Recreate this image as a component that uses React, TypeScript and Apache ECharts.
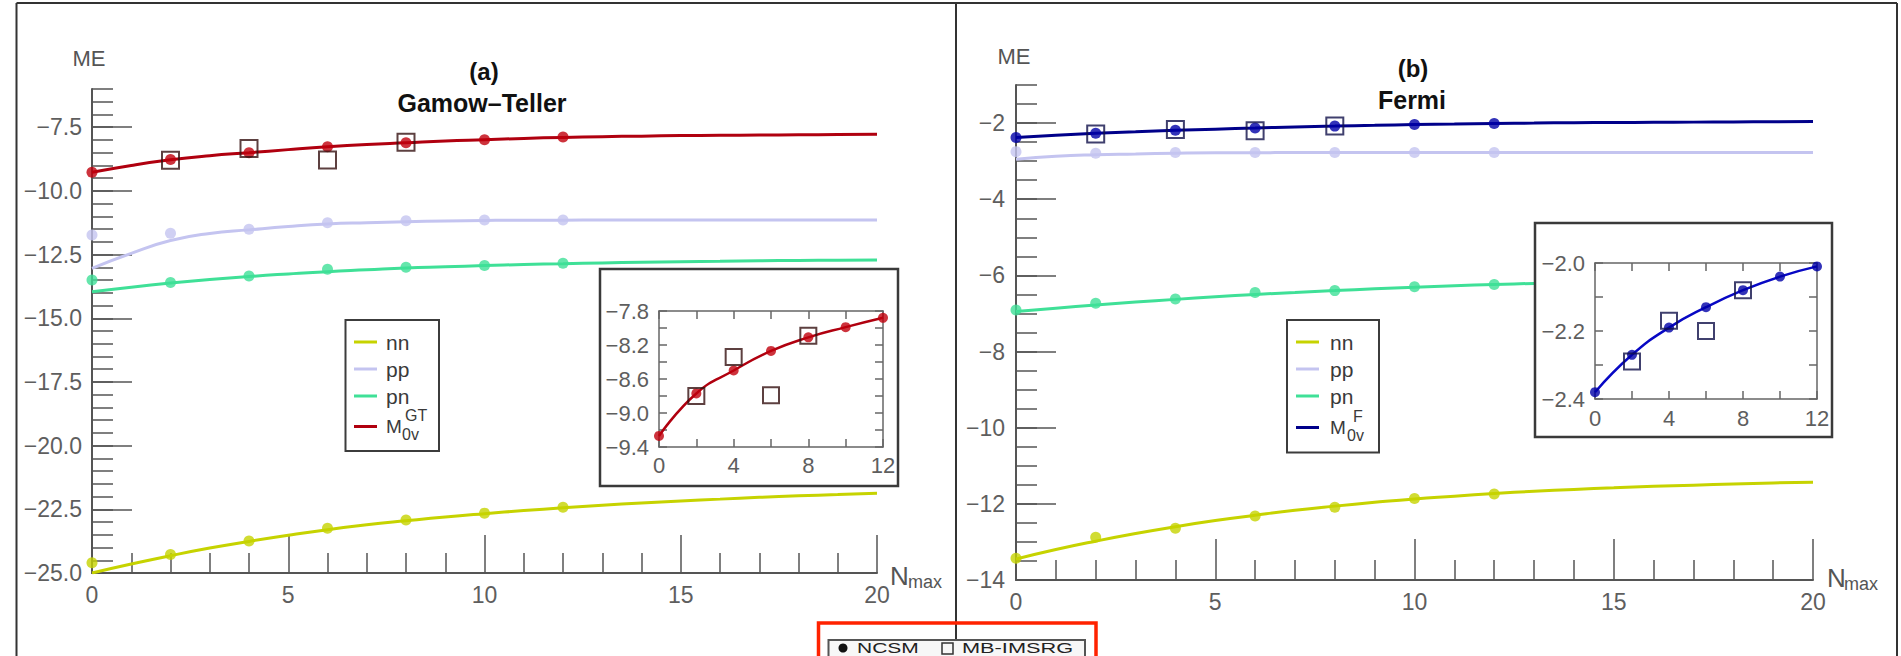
import React, { useEffect, useRef } from 'react';
import * as echarts from 'echarts';

const FONT = "'Liberation Sans', Arial, Helvetica, sans-serif";

// N_max grid of the calculations
const NMAX_NCSM = [0, 2, 4, 6, 8, 10, 12];
const NMAX_IMSRG = [2, 4, 6, 8];
const NMAX_FIT = [0, 1, 2, 3, 4, 5, 6, 7, 8, 9, 10, 11, 12, 13, 14, 15, 16, 17, 18, 19, 20];

// Tick labels
const X_MAIN_LABELS = [0, 5, 10, 15, 20];
const X_INSET_LABELS = [0, 4, 8, 12];
const GT_Y_LABELS = [-25, -22.5, -20, -17.5, -15, -12.5, -10, -7.5];
const GT_INSET_Y_LABELS = [-9.4, -9.0, -8.6, -8.2, -7.8];
const F_Y_LABELS = [-14, -12, -10, -8, -6, -4, -2];
const F_INSET_Y_LABELS = [-2.4, -2.2, -2.0];

// (a) Gamow–Teller: NCSM points
const GT_NN = [-24.6, -24.27, -23.74, -23.24, -22.92, -22.65, -22.42];
const GT_PP = [-11.73, -11.66, -11.51, -11.25, -11.17, -11.14, -11.14];
const GT_PN = [-13.5, -13.6, -13.34, -13.08, -13.0, -12.93, -12.84];
const GT_M0V = [-9.27, -8.77, -8.5, -8.27, -8.11, -7.99, -7.88];
// (a) MB-IMSRG points
const GT_M0V_IMSRG = [-8.8, -8.34, -8.79, -8.09];
// (a) extrapolation curves
const GT_NN_FIT = [-25.0, -24.65, -24.32, -24.02, -23.76, -23.52, -23.3, -23.11, -22.95, -22.8, -22.67, -22.55, -22.44, -22.34, -22.25, -22.17, -22.1, -22.03, -21.97, -21.92, -21.87];
const GT_PP_FIT = [-13.04, -12.45, -11.95, -11.67, -11.53, -11.4, -11.3, -11.25, -11.21, -11.18, -11.16, -11.15, -11.15, -11.14, -11.14, -11.14, -11.14, -11.14, -11.14, -11.14, -11.14];
const GT_PN_FIT = [-13.96, -13.78, -13.62, -13.48, -13.36, -13.26, -13.17, -13.1, -13.03, -12.98, -12.93, -12.89, -12.86, -12.83, -12.8, -12.78, -12.76, -12.74, -12.73, -12.72, -12.71];
const GT_M0V_FIT = [-9.27, -9.0, -8.78, -8.62, -8.5, -8.38, -8.27, -8.18, -8.11, -8.04, -7.99, -7.94, -7.9, -7.87, -7.85, -7.83, -7.82, -7.81, -7.8, -7.79, -7.78];

// (b) Fermi: NCSM points
const F_NN = [-13.43, -12.88, -12.64, -12.32, -12.09, -11.86, -11.74];
const F_PP = [-2.75, -2.79, -2.77, -2.77, -2.77, -2.77, -2.77];
const F_PN = [-6.91, -6.73, -6.62, -6.45, -6.4, -6.3, -6.24];
const F_M0V = [-2.38, -2.27, -2.19, -2.13, -2.08, -2.04, -2.01];
// (b) MB-IMSRG points
const F_M0V_IMSRG = [-2.29, -2.17, -2.2, -2.08];
// (b) extrapolation curves
const F_NN_FIT = [-13.45, -13.2, -12.98, -12.78, -12.6, -12.44, -12.3, -12.17, -12.06, -11.96, -11.87, -11.8, -11.73, -11.67, -11.62, -11.58, -11.54, -11.51, -11.48, -11.45, -11.43];
const F_PP_FIT = [-2.95, -2.87, -2.83, -2.81, -2.79, -2.78, -2.78, -2.77, -2.77, -2.77, -2.77, -2.77, -2.77, -2.77, -2.77, -2.77, -2.77, -2.77, -2.77, -2.77, -2.77];
const F_PN_FIT = [-6.95, -6.86, -6.78, -6.7, -6.63, -6.56, -6.5, -6.45, -6.4, -6.35, -6.31, -6.27, -6.24, -6.21, -6.18, -6.15, -6.13, -6.11, -6.09, -6.07, -6.05];
const F_M0V_FIT = [-2.38, -2.32, -2.27, -2.23, -2.19, -2.16, -2.13, -2.1, -2.08, -2.06, -2.04, -2.025, -2.01, -2.0, -1.99, -1.985, -1.98, -1.975, -1.97, -1.965, -1.96];

const C_NN = '#c6d300';
const C_PP = '#c4c4f0';
const C_PN = '#3fe097';
const C_GT = '#b0000f';
const C_GT_DOT = '#c0000c';
const C_F = '#00008a';
const C_F_DOT = '#0000a8';
const C_F_INSET = '#0808c4';
const SQ_GT = '#351010';
const SQ_F = '#10104a';

const AX = '#555555';
const FRAME = '#666666';
const LB = '#5e5e5e';

const pairs = (xs: number[], ys: number[]) => xs.map((x, i) => [x, ys[i]]);

function labelFmt(list: number[], digits: number) {
  return (v: number) => {
    const hit = list.find((t) => Math.abs(t - v) < 1e-6);
    if (hit === undefined) return '';
    const s = Math.abs(hit).toFixed(digits);
    return hit < 0 ? '\u2212' + s : s;
  };
}

function mainXAxis(grid: number, majorLen: number, margin: number) {
  return {
    type: 'value', gridIndex: grid, min: 0, max: 20, interval: 5,
    axisLine: { show: true, onZero: false, lineStyle: { color: AX, width: 2 } },
    axisTick: { show: true, inside: true, length: majorLen, lineStyle: { color: AX, width: 1.5 } },
    minorTick: { show: true, splitNumber: 5, length: 20, lineStyle: { color: AX, width: 1.5 } },
    axisLabel: {
      show: true, margin, color: LB, fontSize: 23, fontFamily: FONT,
      formatter: labelFmt(X_MAIN_LABELS, 0), showMinLabel: true, showMaxLabel: true,
    },
    splitLine: { show: false },
  };
}

function hiddenXAxis(grid: number) {
  return { type: 'value', gridIndex: grid, min: 0, max: 20, show: false };
}

function minorYAxis(grid: number, min: number, max: number) {
  return {
    type: 'value', gridIndex: grid, min, max, interval: 0.5,
    axisLine: { show: true, onZero: false, lineStyle: { color: AX, width: 2 } },
    axisTick: { show: true, inside: true, length: 21, lineStyle: { color: AX, width: 1.5 } },
    axisLabel: { show: false },
    splitLine: { show: false },
  };
}

function majorYAxis(grid: number, min: number, max: number, interval: number, list: number[], digits: number, margin: number) {
  return {
    type: 'value', gridIndex: grid, min, max, interval,
    axisLine: { show: false },
    axisTick: { show: true, inside: true, length: 40, lineStyle: { color: AX, width: 1.5 } },
    axisLabel: {
      show: true, margin, color: LB, fontSize: 23, fontFamily: FONT,
      formatter: labelFmt(list, digits), showMinLabel: true, showMaxLabel: true,
    },
    splitLine: { show: false },
  };
}

function insetXAxis(grid: number, position: string, labels: boolean, margin: number) {
  return {
    type: 'value', gridIndex: grid, position, min: 0, max: 12, interval: 2, z: 5,
    axisLine: { show: true, onZero: false, lineStyle: { color: FRAME, width: 1.5 } },
    axisTick: { show: true, inside: true, length: 8, lineStyle: { color: FRAME, width: 1.5 } },
    axisLabel: {
      show: labels, margin, color: LB, fontSize: 22, fontFamily: FONT,
      formatter: labelFmt(X_INSET_LABELS, 0), showMinLabel: true, showMaxLabel: true,
    },
    splitLine: { show: false },
  };
}

function insetYAxis(grid: number, position: string, min: number, max: number, interval: number, labels: boolean, list: number[]) {
  return {
    type: 'value', gridIndex: grid, position, min, max, interval, z: 5,
    axisLine: { show: true, onZero: false, lineStyle: { color: FRAME, width: 1.5 } },
    axisTick: { show: true, inside: true, length: 8, lineStyle: { color: FRAME, width: 1.5 } },
    axisLabel: {
      show: labels, margin: 10, color: LB, fontSize: 22, fontFamily: FONT,
      formatter: labelFmt(list, 1), showMinLabel: true, showMaxLabel: true,
    },
    splitLine: { show: false },
  };
}

function fitLine(name: string, xi: number, yi: number, ys: number[], color: string, width: number) {
  return {
    type: 'line', name, xAxisIndex: xi, yAxisIndex: yi, data: pairs(NMAX_FIT, ys),
    smooth: true, symbol: 'none', showSymbol: false, silent: true, z: 2,
    lineStyle: { color, width },
  };
}

function insetLine(name: string, xi: number, yi: number, ys: number[], color: string) {
  return {
    type: 'line', name, xAxisIndex: xi, yAxisIndex: yi, data: pairs(NMAX_NCSM, ys),
    smooth: true, symbol: 'none', showSymbol: false, silent: true, z: 6,
    lineStyle: { color, width: 2.5 },
  };
}

function dots(name: string, xi: number, yi: number, ys: number[], color: string, size: number, z: number) {
  return {
    type: 'scatter', name, xAxisIndex: xi, yAxisIndex: yi, data: pairs(NMAX_NCSM, ys),
    symbol: 'circle', symbolSize: size, itemStyle: { color }, z, clip: false, silent: true,
  };
}

function squares(name: string, xi: number, yi: number, ys: number[], color: string, size: number, z: number) {
  return {
    type: 'scatter', name, xAxisIndex: xi, yAxisIndex: yi, data: pairs(NMAX_IMSRG, ys),
    symbol: 'rect', symbolSize: size, z, clip: false, silent: true,
    itemStyle: { color: 'rgba(0,0,0,0)', borderColor: color, borderWidth: 2 },
  };
}

function txt(text: string, x: number, y: number, size: number, opts: any = {}) {
  const align = opts.align || 'left';
  const el: any = {
    type: 'text', x, y, z: 7, silent: true,
    style: {
      text, fontSize: size, fontFamily: FONT, fontWeight: opts.bold ? 'bold' : 'normal',
      fill: opts.color || '#3a3a3a', align, textAlign: align,
      verticalAlign: 'middle', textVerticalAlign: 'middle',
    },
  };
  if (opts.scaleX) el.scaleX = opts.scaleX;
  return el;
}

function hline(x1: number, y1: number, x2: number, y2: number, color: string, width: number, z = 1) {
  return { type: 'line', z, silent: true, shape: { x1, y1, x2, y2 }, style: { stroke: color, lineWidth: width } };
}

function box(x: number, y: number, w: number, h: number, stroke: string, lw: number, fill: string, z: number) {
  return { type: 'rect', z, silent: true, shape: { x, y, width: w, height: h }, style: { fill, stroke, lineWidth: lw } };
}

// Line-sample legend with nn, pp, pn and the total matrix element
function legendBox(x0: number, y0: number, w: number, h: number, rows: number[], lineX: number, textX: number, mColor: string, sup: string, subX: number, supX: number) {
  const colors = [C_NN, C_PP, C_PN, mColor];
  const labels = ['nn', 'pp', 'pn'];
  const els: any[] = [box(x0, y0, w, h, '#3c3c3c', 2, '#ffffff', 3)];
  colors.forEach((c, i) => {
    els.push(hline(lineX, rows[i], lineX + 23, rows[i], c, 3, 4));
  });
  labels.forEach((l, i) => els.push(txt(l, textX, rows[i], 21)));
  els.push(txt('M', textX, rows[3], 19));
  els.push(txt(sup, supX, rows[3] - 11, 16));
  els.push(txt('0v', subX, rows[3] + 8, 16));
  return els;
}

export default function App() {
  const ref = useRef<HTMLDivElement>(null);

  useEffect(() => {
    if (!ref.current) return;
    const chart = echarts.init(ref.current, undefined, { renderer: 'svg' });

    const grids = [
      { left: 92, top: 89, width: 785, height: 484 },
      { left: 92, top: 127.21, width: 785, height: 445.79 },
      { left: 659, top: 311, width: 224, height: 136 },
      { left: 1016, top: 85, width: 797, height: 495 },
      { left: 1016, top: 123.08, width: 797, height: 456.92 },
      { left: 1595, top: 263, width: 222, height: 136 },
    ].map((g) => ({ ...g, containLabel: false, outerBoundsMode: 'none', show: false }));

    const xAxis = [
      mainXAxis(0, 38, 10),
      hiddenXAxis(1),
      insetXAxis(2, 'bottom', true, 7),
      insetXAxis(2, 'top', false, 7),
      mainXAxis(3, 41, 10),
      hiddenXAxis(4),
      insetXAxis(5, 'bottom', true, 8),
      insetXAxis(5, 'top', false, 8),
    ];

    const yAxis = [
      minorYAxis(0, -25, -6),
      majorYAxis(1, -25, -7.5, 2.5, GT_Y_LABELS, 1, 10),
      insetYAxis(2, 'left', -9.4, -7.8, 0.2, true, GT_INSET_Y_LABELS),
      insetYAxis(2, 'right', -9.4, -7.8, 0.2, false, GT_INSET_Y_LABELS),
      minorYAxis(3, -14, -1),
      majorYAxis(4, -14, -2, 2, F_Y_LABELS, 0, 11),
      insetYAxis(5, 'left', -2.4, -2.0, 0.1, true, F_INSET_Y_LABELS),
      insetYAxis(5, 'right', -2.4, -2.0, 0.1, false, F_INSET_Y_LABELS),
    ];

    const series = [
      // (a) main panel
      fitLine('nn', 0, 0, GT_NN_FIT, C_NN, 3),
      fitLine('pp', 0, 0, GT_PP_FIT, C_PP, 3),
      fitLine('pn', 0, 0, GT_PN_FIT, C_PN, 3),
      fitLine('M0v GT', 0, 0, GT_M0V_FIT, C_GT, 3),
      dots('nn NCSM', 0, 0, GT_NN, C_NN, 11, 2),
      dots('pp NCSM', 0, 0, GT_PP, C_PP, 11, 2),
      dots('pn NCSM', 0, 0, GT_PN, C_PN, 11, 2),
      dots('M0v GT NCSM', 0, 0, GT_M0V, C_GT_DOT, 11, 2),
      squares('M0v GT MB-IMSRG', 0, 0, GT_M0V_IMSRG, SQ_GT, 17, 2),
      // (a) inset
      insetLine('M0v GT inset', 2, 2, GT_M0V, C_GT),
      dots('M0v GT NCSM inset', 2, 2, GT_M0V, C_GT_DOT, 10, 6),
      squares('M0v GT MB-IMSRG inset', 2, 2, GT_M0V_IMSRG, SQ_GT, 16, 6),
      // (b) main panel
      fitLine('nn F', 4, 4, F_NN_FIT, C_NN, 3),
      fitLine('pp F', 4, 4, F_PP_FIT, C_PP, 3),
      fitLine('pn F', 4, 4, F_PN_FIT, C_PN, 3),
      fitLine('M0v F', 4, 4, F_M0V_FIT, C_F, 3),
      dots('nn F NCSM', 4, 4, F_NN, C_NN, 11, 2),
      dots('pp F NCSM', 4, 4, F_PP, C_PP, 11, 2),
      dots('pn F NCSM', 4, 4, F_PN, C_PN, 11, 2),
      dots('M0v F NCSM', 4, 4, F_M0V, C_F_DOT, 11, 2),
      squares('M0v F MB-IMSRG', 4, 4, F_M0V_IMSRG, SQ_F, 17, 2),
      // (b) inset
      insetLine('M0v F inset', 6, 6, F_M0V, C_F_INSET),
      dots('M0v F NCSM inset', 6, 6, F_M0V, C_F_DOT, 10, 6),
      squares('M0v F MB-IMSRG inset', 6, 6, F_M0V_IMSRG, SQ_F, 16, 6),
    ];

    const graphics: any[] = [
      // outer frame and panel divider
      hline(16.5, 3, 1897, 3, '#333', 2),
      hline(16.5, 3, 16.5, 656, '#333', 2),
      hline(1897, 3, 1897, 656, '#333', 2),
      hline(956, 3, 956, 640, '#333', 2),
      // inset backgrounds
      box(600, 269, 298, 217, '#3a3a3a', 2.5, '#ffffff', 3),
      box(1535, 223, 297, 214, '#3a3a3a', 2.5, '#ffffff', 3),
      // titles
      txt('(a)', 484, 71, 24, { bold: true, align: 'center', color: '#111' }),
      txt('Gamow\u2013Teller', 482, 103, 25, { bold: true, align: 'center', color: '#111' }),
      txt('(b)', 1413, 68, 24, { bold: true, align: 'center', color: '#111' }),
      txt('Fermi', 1412, 100, 25, { bold: true, align: 'center', color: '#111' }),
      // axis names
      txt('ME', 89, 58, 22, { align: 'center', color: '#555' }),
      txt('ME', 1014, 56, 22, { align: 'center', color: '#555' }),
      txt('N', 890, 576, 26, { color: '#555' }),
      txt('max', 908, 582, 18, { color: '#555' }),
      txt('N', 1827, 578, 26, { color: '#555' }),
      txt('max', 1844, 584, 18, { color: '#555' }),
      ...legendBox(345.5, 320, 93.5, 131, [342, 369, 396, 426.5], 354, 386, C_GT, 'GT', 402, 405),
      ...legendBox(1287, 320, 92, 132.5, [342, 369, 396, 427.5], 1296, 1330, C_F, 'F', 1347, 1353),
      // method legend at the bottom
      box(828.5, 640, 256.5, 40, '#555', 2, '#f7f7f7', 3),
      { type: 'circle', z: 7, silent: true, shape: { cx: 843, cy: 648, r: 4.5 }, style: { fill: '#111' } },
      txt('NCSM', 857, 648, 15, { color: '#222', scaleX: 1.4 }),
      box(942, 643, 11, 11, '#333', 1.5, 'none', 7),
      txt('MB-IMSRG', 962, 648, 15, { color: '#222', scaleX: 1.45 }),
      box(818.5, 623, 277.5, 60, '#ff2200', 3.5, 'none', 8),
    ];

    chart.setOption({
      animation: false,
      backgroundColor: '#ffffff',
      grid: grids,
      xAxis,
      yAxis,
      series,
      graphic: { elements: graphics },
    });

    return () => chart.dispose();
  }, []);

  return <div ref={ref} style={{ position: 'absolute', left: 0, top: 0, width: 1901, height: 656 }} />;
}
